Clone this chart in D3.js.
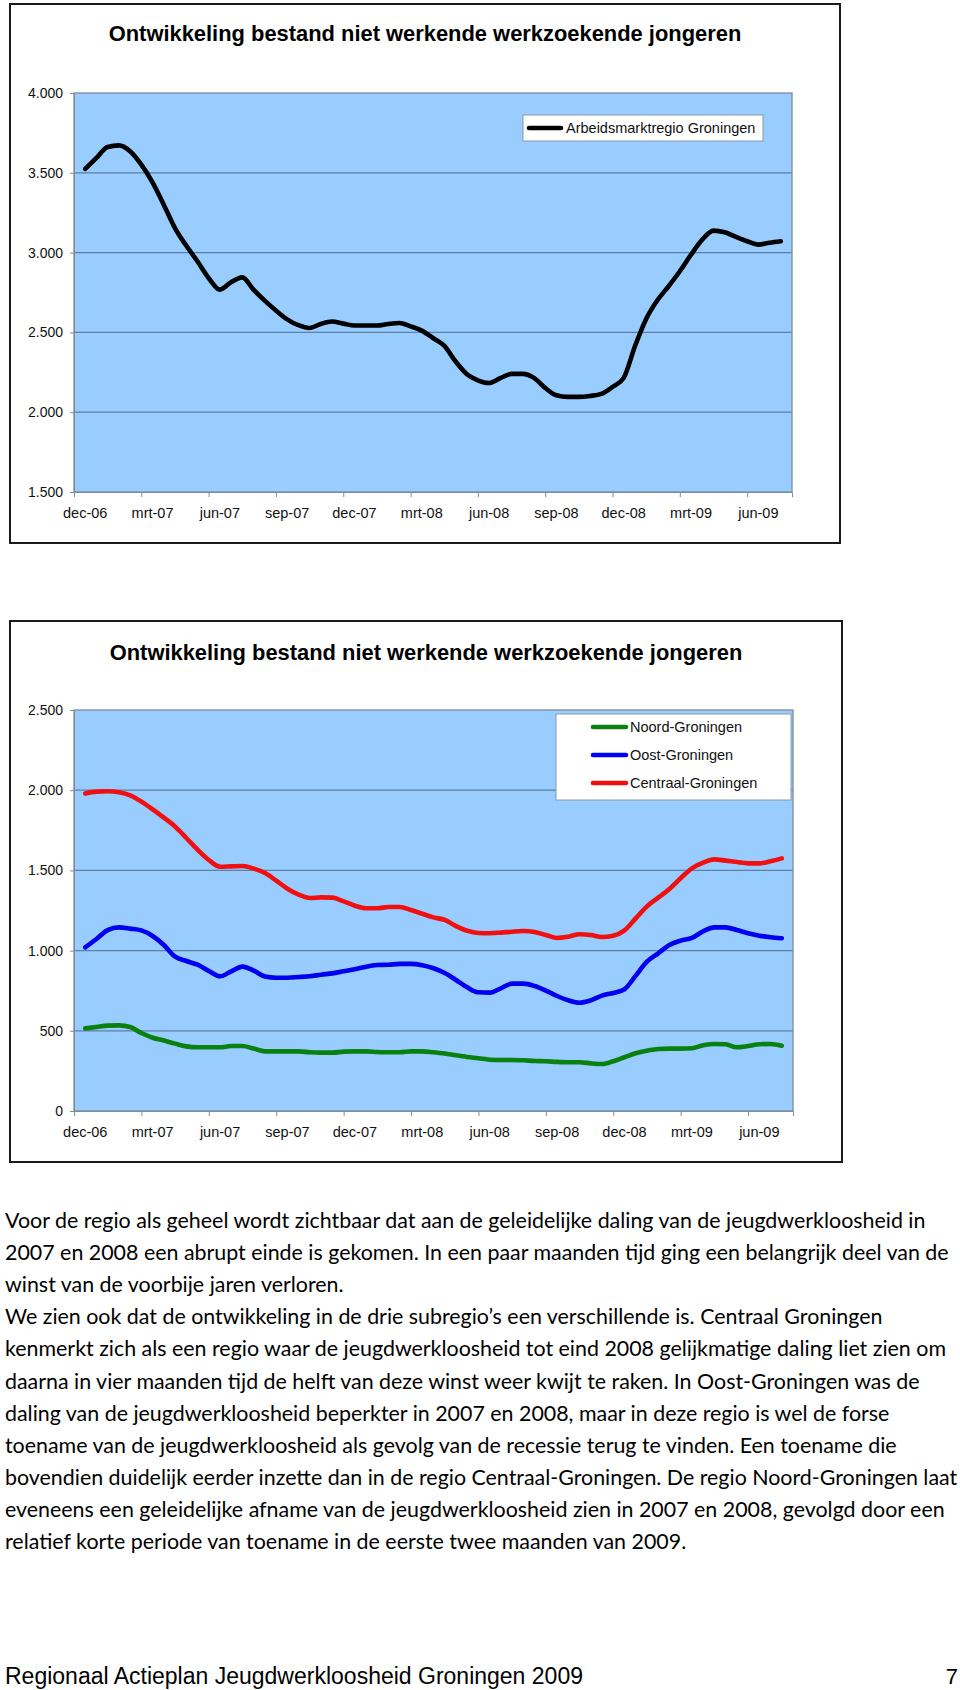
<!DOCTYPE html>
<html><head><meta charset="utf-8">
<script src="https://cdn.jsdelivr.net/npm/d3@7"></script>
<style>body{margin:0;background:#fff} svg{display:block}</style>
</head><body>
<svg id="c" width="960" height="1690"></svg>
<script>
// Half-monthly readings, dec-06 .. jul-09 (63 points)
const months = ["dec-06","jan-07","feb-07","mrt-07","apr-07","mei-07","jun-07","jul-07","aug-07","sep-07","okt-07","nov-07","dec-07","jan-08","feb-08","mrt-08","apr-08","mei-08","jun-08","jul-08","aug-08","sep-08","okt-08","nov-08","dec-08","jan-09","feb-09","mrt-09","apr-09","mei-09","jun-09","jul-09"];
const tickLabels = ["dec-06","mrt-07","jun-07","sep-07","dec-07","mrt-08","jun-08","sep-08","dec-08","mrt-09","jun-09"];
const regio = [3524,3593,3662,3672,3635,3551,3440,3300,3154,3044,2946,2841,2768,2814,2845,2768,2699,2637,2582,2545,2528,2553,2568,2555,2543,2543,2543,2553,2559,2538,2511,2465,2417,2319,2240,2200,2183,2213,2240,2240,2215,2152,2106,2096,2096,2102,2115,2158,2215,2413,2584,2701,2789,2883,2987,3081,3138,3127,3098,3071,3050,3062,3071];
const noord = [515,524,532,534,524,486,457,439,420,403,397,397,397,405,405,389,372,372,372,372,366,364,364,370,372,372,368,366,366,372,372,366,358,347,337,329,320,318,318,316,312,310,306,304,304,297,293,310,335,360,376,387,389,389,391,410,418,416,397,405,416,418,407];
const oost = [1020,1072,1128,1145,1137,1126,1091,1035,962,935,912,873,840,871,900,875,838,831,831,835,840,850,858,871,883,900,910,912,917,917,908,890,860,817,771,740,738,765,794,794,779,750,717,690,675,690,719,736,759,844,931,983,1035,1062,1079,1120,1145,1145,1128,1108,1093,1083,1077];
const centraal = [1980,1991,1993,1987,1968,1929,1881,1829,1773,1702,1629,1565,1523,1525,1527,1511,1484,1436,1386,1349,1328,1332,1330,1307,1280,1264,1264,1272,1272,1253,1230,1207,1191,1153,1124,1110,1108,1112,1118,1122,1116,1097,1079,1087,1102,1097,1085,1093,1126,1201,1276,1330,1384,1451,1513,1548,1569,1561,1552,1544,1544,1557,1575];
const titleText = "Ontwikkeling bestand niet werkende werkzoekende jongeren";
const paragraph = [
"Voor de regio als geheel wordt zichtbaar dat aan de geleidelijke daling van de jeugdwerkloosheid in",
"2007 en 2008 een abrupt einde is gekomen. In een paar maanden tijd ging een belangrijk deel van de",
"winst van de voorbije jaren verloren.",
"We zien ook dat de ontwikkeling in de drie subregio\u2019s een verschillende is. Centraal Groningen",
"kenmerkt zich als een regio waar de jeugdwerkloosheid tot eind 2008 gelijkmatige daling liet zien om",
"daarna in vier maanden tijd de helft van deze winst weer kwijt te raken. In Oost-Groningen was de",
"daling van de jeugdwerkloosheid beperkter in 2007 en 2008, maar in deze regio is wel de forse",
"toename van de jeugdwerkloosheid als gevolg van de recessie terug te vinden. Een toename die",
"bovendien duidelijk eerder inzette dan in de regio Centraal-Groningen. De regio Noord-Groningen laat",
"eveneens een geleidelijke afname van de jeugdwerkloosheid zien in 2007 en 2008, gevolgd door een",
"relatief korte periode van toename in de eerste twee maanden van 2009."
];
const footer = "Regionaal Actieplan Jeugdwerkloosheid Groningen 2009";
const pageNo = "7";

const svg = d3.select("#c");
const nl = d3.formatLocale({decimal:",", thousands:".", grouping:[3], currency:["€",""]});
const fmt = nl.format(",d");
const AX = "'Liberation Sans', Arial, sans-serif";

function drawChart(o){
  const g = svg.append("g");
  g.append("rect").attr("x",o.box.x).attr("y",o.box.y).attr("width",o.box.w).attr("height",o.box.h)
    .attr("fill","#fff").attr("stroke","#1a1a1a").attr("stroke-width",2);
  g.append("text").attr("x",o.box.x+o.box.w/2).attr("y",o.titleY).attr("text-anchor","middle")
    .attr("font-family",AX).attr("font-weight","bold").attr("font-size",21.9).attr("fill","#000").text(titleText);
  const p = o.plot;
  const x = d3.scaleLinear().domain([-1,63]).range([p.x, p.x+p.w]);
  const y = d3.scaleLinear().domain(o.yDomain).range([p.y+p.h, p.y]);
  g.append("rect").attr("x",p.x).attr("y",p.y).attr("width",p.w).attr("height",p.h).attr("fill","#99CCFF");
  // gridlines
  g.append("g").selectAll("line").data(o.yTicks.slice(1,-1)).join("line")
    .attr("x1",p.x).attr("x2",p.x+p.w).attr("y1",d=>y(d)).attr("y2",d=>y(d))
    .attr("stroke","#5f7fa3").attr("stroke-width",1.2);
  g.append("rect").attr("x",p.x).attr("y",p.y).attr("width",p.w).attr("height",p.h)
    .attr("fill","none").attr("stroke","#7f8c99").attr("stroke-width",1.3);
  // y axis
  const ya = g.append("g").attr("transform",`translate(${p.x},0)`)
    .call(d3.axisLeft(y).tickValues(o.yTicks).tickFormat(fmt).tickSize(4).tickPadding(7));
  ya.select(".domain").attr("stroke","#7f8c99");
  ya.selectAll(".tick line").attr("stroke","#7f8c99");
  ya.selectAll("text").attr("font-family",AX).attr("font-size",14).attr("fill","#111");
  // x axis
  const tickPos = d3.range(-1,63,6);
  const xa = g.append("g").attr("transform",`translate(0,${p.y+p.h})`)
    .call(d3.axisBottom(x).tickValues(tickPos).tickFormat("").tickSize(5));
  xa.select(".domain").attr("stroke","#7f8c99");
  xa.selectAll(".tick line").attr("stroke","#7f8c99");
  g.append("g").selectAll("text").data(tickLabels).join("text")
    .attr("x",(d,i)=>x(i*6)).attr("y",p.y+p.h+21).attr("dy","0.35em").attr("text-anchor","middle")
    .attr("font-family",AX).attr("font-size",14.5).attr("fill","#111").text(d=>d);
  // lines
  const line = d3.line().x((d,i)=>x(i)).y(d=>y(d)).curve(d3.curveMonotoneX);
  o.series.forEach(s=>{
    g.append("path").datum(s.values).attr("d",line).attr("fill","none")
      .attr("stroke",s.color).attr("stroke-width",4.6).attr("stroke-linejoin","round").attr("stroke-linecap","round");
  });
  // legend
  const L = o.legend;
  g.append("rect").attr("x",L.x).attr("y",L.y).attr("width",L.w).attr("height",L.h)
    .attr("fill","#fff").attr("stroke","#8797a8").attr("stroke-width",1);
  o.series.forEach((s,i)=>{
    const yy = L.rows[i];
    g.append("line").attr("x1",L.lx1).attr("x2",L.lx2).attr("y1",yy).attr("y2",yy)
      .attr("stroke",s.color).attr("stroke-width",4.6).attr("stroke-linecap","round");
    g.append("text").attr("x",L.tx).attr("y",yy).attr("dy","0.35em")
      .attr("font-family",AX).attr("font-size",14.5).attr("fill","#111").text(s.name);
  });
}

drawChart({
  box:{x:10,y:4,w:830,h:539}, titleY:41,
  plot:{x:74,y:93,w:718,h:399},
  yDomain:[1500,4000], yTicks:[1500,2000,2500,3000,3500,4000],
  series:[{name:"Arbeidsmarktregio Groningen", values:regio, color:"#000"}],
  legend:{x:523,y:115,w:240,h:26,rows:[128],lx1:529,lx2:561,tx:566}
});
drawChart({
  box:{x:10,y:621,w:832,h:541}, titleY:660,
  plot:{x:74,y:710,w:719,h:401},
  yDomain:[0,2500], yTicks:[0,500,1000,1500,2000,2500],
  series:[{name:"Noord-Groningen", values:noord, color:"#0a800f"},
          {name:"Oost-Groningen", values:oost, color:"#0000f0"},
          {name:"Centraal-Groningen", values:centraal, color:"#f01010"}],
  legend:{x:556,y:714,w:235,h:86,rows:[727,755,783],lx1:593,lx2:626,tx:630}
});

// paragraph
const pg = svg.append("g").attr("font-family","Lato, 'Open Sans', sans-serif").attr("fill","#000");
const texts = pg.selectAll("text").data(paragraph).join("text")
  .attr("x",5).attr("y",(d,i)=>1228+i*32.1).attr("font-size",18).text(d=>d);
const refW = texts.nodes()[8].getComputedTextLength();
const fs = 18*953/refW;
texts.attr("font-size",fs);

const ft = svg.append("text").attr("x",5).attr("y",1684).attr("font-family",AX).attr("font-size",22).attr("fill","#000").text(footer);
const fw = ft.node().getComputedTextLength();
ft.attr("font-size",22*578/fw);
svg.append("text").attr("x",958).attr("y",1684).attr("text-anchor","end").attr("font-family",AX).attr("font-size",22).attr("fill","#000").text(pageNo);
</script>
</body></html>
